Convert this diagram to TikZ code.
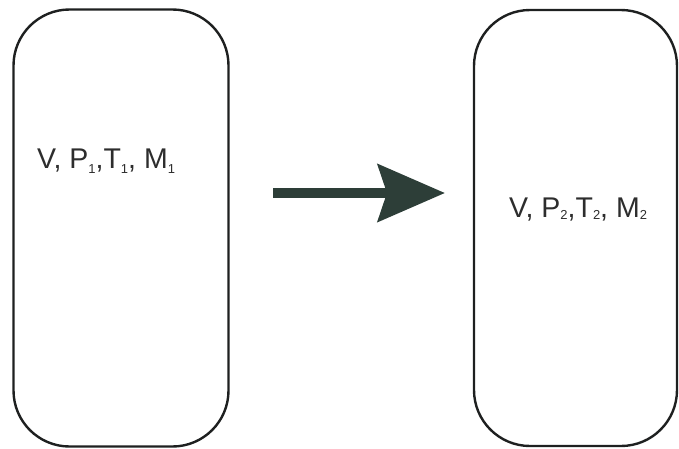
\documentclass[tikz,border=0pt]{standalone}
\usepackage{fontspec}
\setmainfont{Liberation Sans}
\usetikzlibrary{arrows.meta}
\definecolor{boxline}{RGB}{30,32,32}
\definecolor{arrowcol}{RGB}{45,62,56}
\definecolor{textcol}{RGB}{45,45,45}
\newcommand{\subl}[1]{\raisebox{-5pt}{\fontsize{13}{13}\selectfont #1}}
\newcommand{\subr}[1]{\raisebox{-2pt}{\fontsize{13}{13}\selectfont #1}}
\tikzset{
  vessel/.style={draw=boxline, line width=2.4pt, rectangle, rounded corners=56pt, inner sep=0pt},
  statelabel/.style={anchor=base west, inner sep=0pt, text=textcol, font=\fontsize{28.5}{32}\selectfont},
  flowarrow/.style={draw=arrowcol, line width=10pt, -{Stealth[length=67pt, width=57pt, inset=9pt]}}
}
\begin{document}
\begin{tikzpicture}[x=1pt,y=-1pt]
\useasboundingbox (0,0) rectangle (679,448);
\node[vessel, minimum width=215pt, minimum height=437pt] (left) at (121,228) {};
\node[vessel, minimum width=203pt, minimum height=436pt] (right) at (575.5,228) {};
\node[statelabel] (t1) at (37,168) {V, P\subl{1},T\subl{1}, M\subl{1}};
\node[statelabel] (t2) at (509,217) {V, P\subr{2},T\subr{2}, M\subr{2}};
\coordinate (astart) at (273,193);
\coordinate (aend) at (445,193);
\draw[flowarrow] (astart) -- (aend);
\end{tikzpicture}
\end{document}
